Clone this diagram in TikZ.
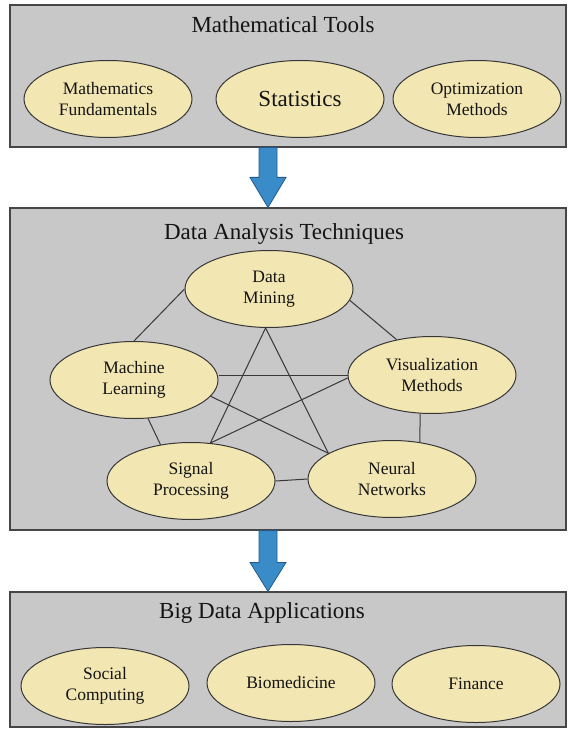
\documentclass[tikz,border=0pt]{standalone}
\usepackage{fontspec}
\setmainfont{Liberation Serif}
\usetikzlibrary{shapes.geometric,calc}
\definecolor{boxgray}{RGB}{200,200,200}
\definecolor{boxedge}{RGB}{70,70,70}
\definecolor{ellfill}{RGB}{242,230,178}
\definecolor{elledge}{RGB}{55,55,55}
\definecolor{arrowblue}{RGB}{58,140,200}
\definecolor{arrowedge}{RGB}{35,90,140}
\definecolor{txt}{RGB}{20,20,20}
\begin{document}
\begin{tikzpicture}[x=1pt,y=-1pt,
  panel/.style={draw=boxedge, fill=boxgray, line width=1.2pt, inner sep=0pt},
  title/.style={font=\fontsize{23}{26}\selectfont, text=txt, anchor=base, inner sep=0pt},
  oval/.style={ellipse, draw=elledge, fill=ellfill, line width=1pt, minimum width=168pt, minimum height=77pt, inner sep=0pt, align=center, text=txt, font=\fontsize{17.5}{21}\selectfont},
  link/.style={draw=black!78, line width=1pt},
  bigarrow/.style={fill=arrowblue, draw=arrowedge, line width=0.8pt}]
\useasboundingbox (0,0) rectangle (568,735);

% panels
\node[panel, minimum width=556pt, minimum height=142pt] (p1) at (288,76) {};
\node[panel, minimum width=556pt, minimum height=322pt] (p2) at (288,369) {};
\node[panel, minimum width=556pt, minimum height=135pt] (p3) at (288,659.5) {};

% titles
\node[title] (t1) at (283,33) {Mathematical Tools};
\node[title] (t2) at (284,239) {Data Analysis Techniques};
\node[title] (t3) at (262,618) {Big Data Applications};

% top ellipses
\node[oval] (MF) at (108,99) {Mathematics\\Fundamentals};
\node[oval, font=\fontsize{23}{26}\selectfont] (ST) at (300,99) {Statistics};
\node[oval] (OM) at (477,99) {Optimization\\Methods};

% middle ellipses
\node[oval] (DM) at (269,289) {Data\\Mining};
\node[oval] (ML) at (134,380) {Machine\\Learning};
\node[oval] (VM) at (432,375) {Visualization\\Methods};
\node[oval] (SP) at (191,481) {Signal\\Processing};
\node[oval] (NN) at (392,479) {Neural\\Networks};

% links
\draw[link] (DM.west) -- (ML.north);
\draw[link] (DM.-8) -- (VM.135);
\draw[link] (DM.265) -- (SP.63);
\draw[link] (DM.265) -- (NN.158);
\draw[link] (ML.-12) -- (NN.158);
\draw[link] (VM.182) -- (SP.63);
\draw[link] (VM.west -| ML.east) -- (VM.west);
\draw[link] (VM.-107) -- (NN.53);
\draw[link] (ML.-70) -- (SP.130);
\draw[link] (SP.east) -- (NN.west);

% bottom ellipses
\node[oval] (SC) at (105,686) {Social\\Computing};
\node[oval] (BM) at (291,683) {Biomedicine};
\node[oval] (FI) at (476,684) {Finance};

% block arrows
\coordinate (ax) at (268,0);
\coordinate (a1top) at (ax |- p1.south);
\coordinate (a1tip) at (ax |- p2.north);
\coordinate (a2top) at (ax |- p2.south);
\coordinate (a2tip) at (ax |- p3.north);
\draw[bigarrow] ($(a1top)+(-9,0)$) -- ($(a1tip)+(-9,-30)$) -- ($(a1tip)+(-18,-30)$) -- (a1tip)
  -- ($(a1tip)+(18,-30)$) -- ($(a1tip)+(9,-30)$) -- ($(a1top)+(9,0)$) -- cycle;
\draw[bigarrow] ($(a2top)+(-9,0)$) -- ($(a2tip)+(-9,-29)$) -- ($(a2tip)+(-18,-29)$) -- (a2tip)
  -- ($(a2tip)+(18,-29)$) -- ($(a2tip)+(9,-29)$) -- ($(a2top)+(9,0)$) -- cycle;
\end{tikzpicture}
\end{document}
